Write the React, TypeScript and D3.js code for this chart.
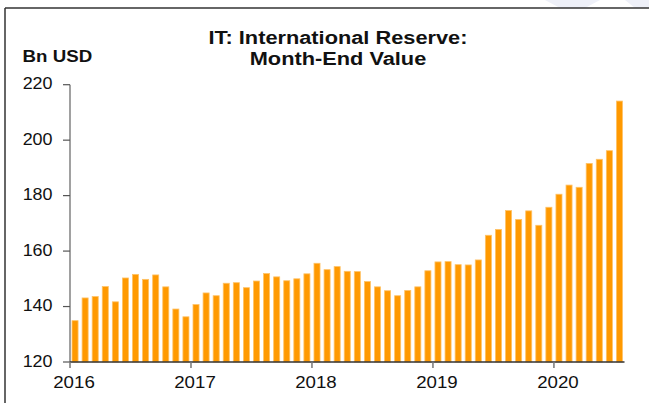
import React from "react";
import * as d3 from "d3";

const years = [2016, 2017, 2018, 2019, 2020];
const months = d3.range(55).map((i) => `${2016 + Math.floor(i / 12)}-${String((i % 12) + 1).padStart(2, "0")}`);
const values2016 = [134.9, 143.1, 143.6, 147.2, 141.7, 150.3, 151.6, 149.8, 151.4, 147.1, 139.1, 136.3];
const values2017 = [140.7, 144.9, 143.9, 148.4, 148.6, 146.8, 149.2, 151.9, 150.7, 149.3, 150.0, 151.8];
const values2018 = [155.6, 153.3, 154.4, 152.7, 152.6, 149.0, 147.1, 145.7, 143.9, 145.8, 147.1, 152.9];
const values2019 = [156.1, 156.2, 155.1, 155.0, 156.8, 165.7, 167.8, 174.6, 171.4, 174.5, 169.3, 175.8];
const values2020 = [180.5, 183.8, 183.0, 191.6, 193.1, 196.2, 214.1];
const values = [...values2016, ...values2017, ...values2018, ...values2019, ...values2020];
const yTicks = [120, 140, 160, 180, 200, 220];
const title = ["IT: International Reserve:", "Month-End Value"];
const unitLabel = "Bn USD";

const W = 649;
const H = 403;
const FONT = "'Liberation Sans', Arial, sans-serif";

export default function App() {
  const x = d3.scaleBand<string>().domain(months).range([70, 624.5]).paddingInner(0.4).paddingOuter(0.2);
  const slot = d3.scaleBand<string>().domain(months).range([70, 624.5]).padding(0);
  const y = d3.scaleLinear().domain([120, 220]).range([362, 84.7]);

  return (
    <svg width={W} height={H} style={{ position: "absolute", left: 0, top: 0, background: "#fff" }} fontFamily={FONT}>
      {/* faint watermark at top */}
      <polygon points="545,0 600,0 585,8 560,8" fill="#eef0f8" />
      <polygon points="625,0 649,0 649,8 635,8" fill="#eef0f8" />
      {/* frame */}
      <line x1={5} y1={8} x2={649} y2={8} stroke="#333" strokeWidth={1.5} />
      <line x1={5} y1={8} x2={5} y2={403} stroke="#333" strokeWidth={1.5} />

      {/* title */}
      {title.map((t, i) => (
        <text
          key={t}
          transform={`translate(338,${44 + i * 21}) scale(1.21,1)`}
          textAnchor="middle"
          fontSize={18}
          fontWeight="bold"
          fill="#111"
        >
          {t}
        </text>
      ))}
      <text transform="translate(22.5,61.7) scale(1.17,1)" fontSize={16} fontWeight="bold" fill="#111">
        {unitLabel}
      </text>

      {/* bars */}
      {values.map((v, i) => (
        <rect
          key={months[i]}
          x={x(months[i])!}
          y={y(v)}
          width={x.bandwidth()}
          height={y(120) - y(v)}
          fill="#FF9900"
          stroke="#FFC266"
          strokeWidth={0.8}
        />
      ))}

      {/* y axis */}
      <line x1={70} y1={y(220)} x2={70} y2={y(120)} stroke="#6e6e6e" strokeWidth={1.3} />
      {yTicks.map((t) => (
        <g key={t}>
          <line x1={63} x2={70} y1={y(t)} y2={y(t)} stroke="#555" strokeWidth={1.2} />
          <text transform={`translate(52.5,${y(t) + 4.5}) scale(1.12,1)`} textAnchor="end" fontSize={16} fill="#111">
            {t}
          </text>
        </g>
      ))}

      {/* x axis */}
      <line x1={70} x2={624.5} y1={y(120)} y2={y(120)} stroke="#333" strokeWidth={1.5} />
      {years.map((yr) => {
        const tx = slot(`${yr}-01`)!;
        return (
          <g key={yr}>
            <line x1={tx} x2={tx} y1={y(120)} y2={y(120) + 6} stroke="#777" strokeWidth={1.5} />
            <text transform={`translate(${tx + 4},387.7) scale(1.1,1)`} textAnchor="middle" fontSize={17} fill="#111">
              {yr}
            </text>
          </g>
        );
      })}
    </svg>
  );
}
